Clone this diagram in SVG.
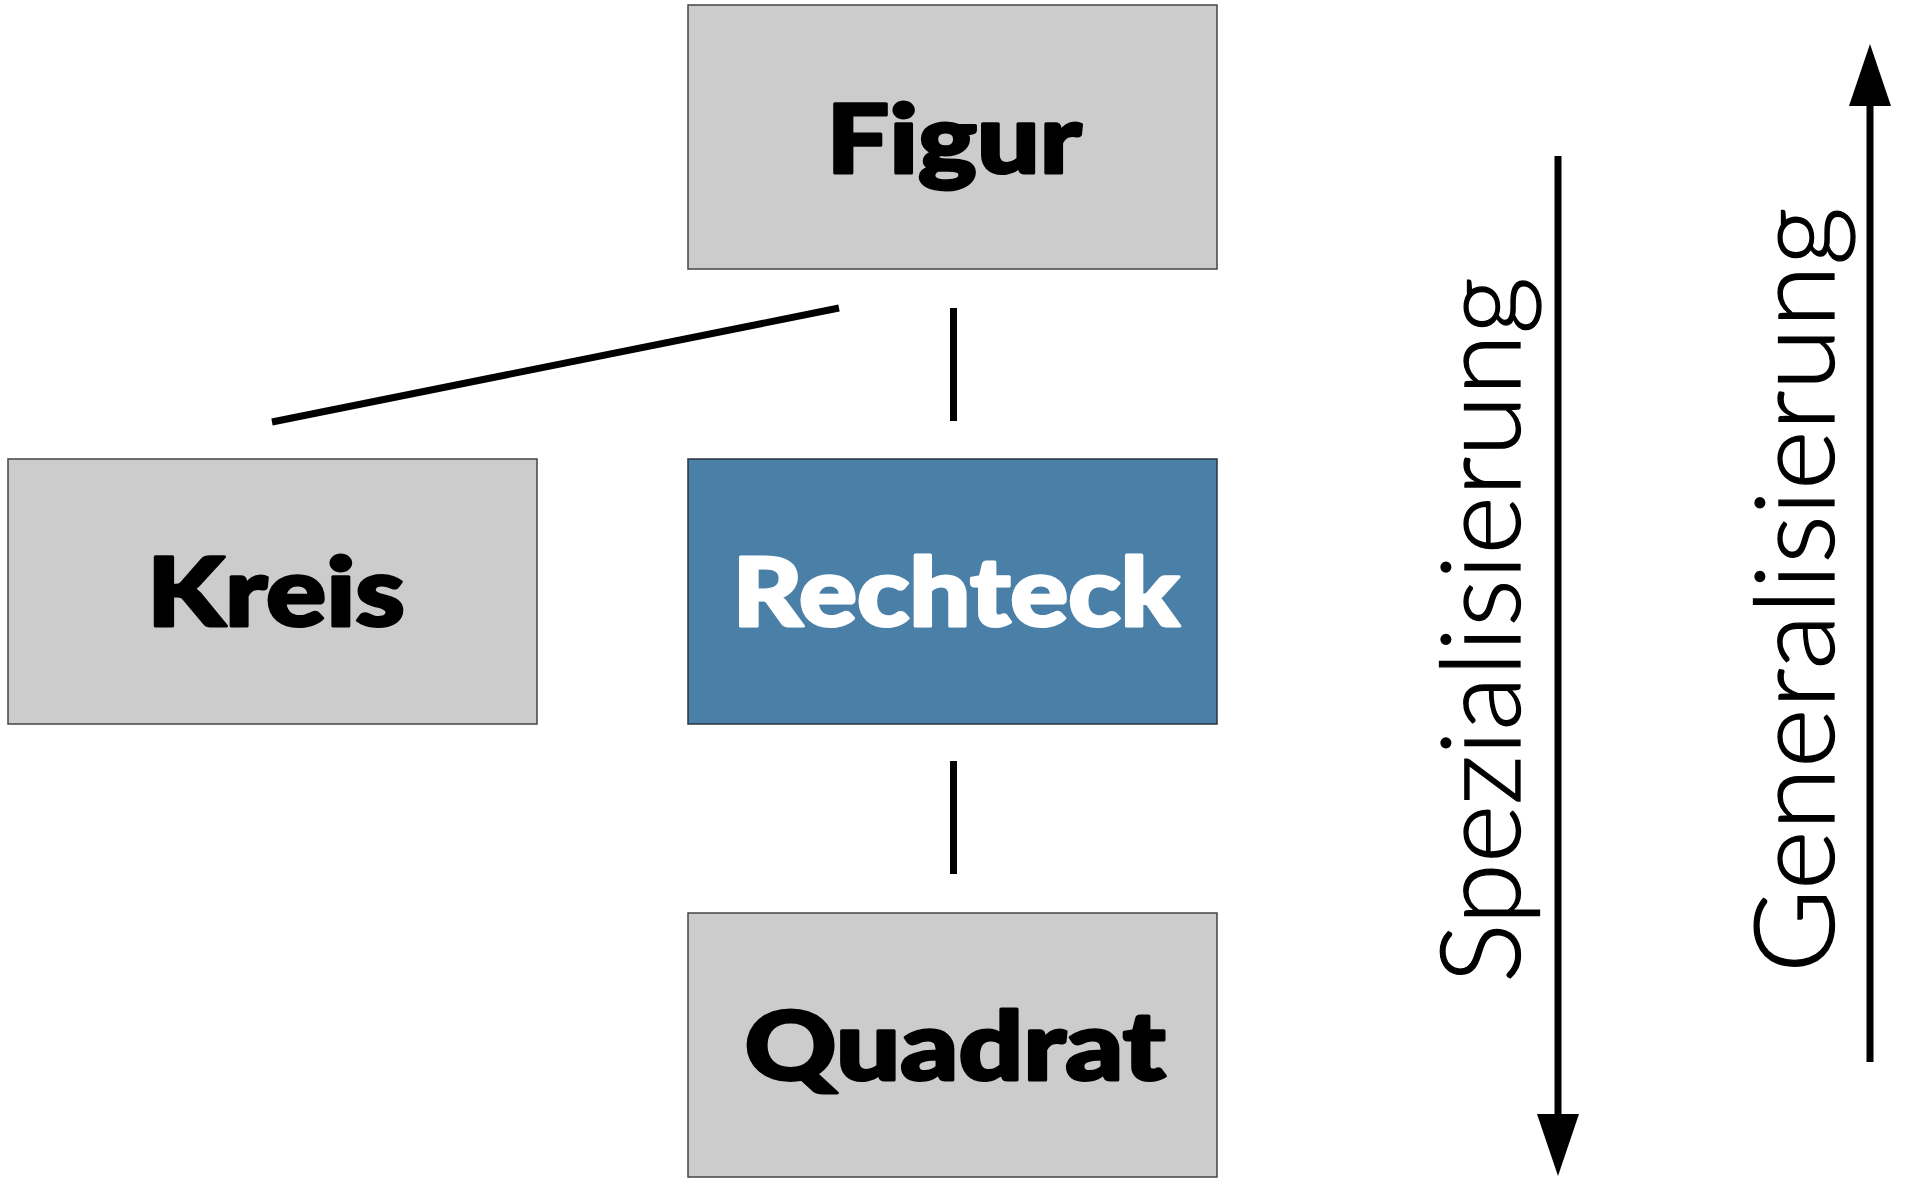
<svg xmlns="http://www.w3.org/2000/svg" width="1907" height="1179" viewBox="0 0 1907 1179">
  <style>
    .box { fill: #cccccc; stroke: #444444; stroke-width: 1.5; }
    .box.active { fill: #4a7fa7; stroke: #2a3540; }
    .label { font-family: "Lato", "Liberation Sans", sans-serif; font-weight: 900; font-size: 96px; fill: #000000; stroke: #000000; stroke-width: 3; stroke-linejoin: round; text-anchor: middle; }
    .label.inv { fill: #ffffff; stroke: #ffffff; }
    .link { stroke: #000000; stroke-width: 7; fill: none; stroke-linecap: butt; }
    .axis { font-family: "Lato", "Liberation Sans", sans-serif; font-weight: 300; font-size: 110px; fill: #000000; stroke: #000000; stroke-width: 1.3; }
  </style>
  <defs>
    <marker id="head" markerUnits="userSpaceOnUse" viewBox="0 0 62 42" markerWidth="62" markerHeight="42" refX="0" refY="21" orient="auto">
      <path d="M0,0 L62,21 L0,42 z" fill="#000000"/>
    </marker>
  </defs>

  <!-- hierarchy connectors -->
  <g id="connectors">
    <line class="link" x1="272" y1="422" x2="839" y2="308"/>
    <line class="link" x1="953.5" y1="308" x2="953.5" y2="421"/>
    <line class="link" x1="953.5" y1="761" x2="953.5" y2="874"/>
  </g>

  <g id="figur">
    <rect class="box" x="688" y="5" width="529" height="264"/>
    <text class="label" x="954" y="173" textLength="255" lengthAdjust="spacingAndGlyphs">Figur</text>
  </g>

  <g id="kreis">
    <rect class="box" x="8" y="459" width="529" height="265"/>
    <text class="label" x="276" y="626" textLength="258" lengthAdjust="spacingAndGlyphs">Kreis</text>
  </g>

  <g id="rechteck">
    <rect class="box active" x="688" y="459" width="529" height="265"/>
    <text class="label inv" x="956" y="626" textLength="447" lengthAdjust="spacingAndGlyphs">Rechteck</text>
  </g>

  <g id="quadrat">
    <rect class="box" x="688" y="913" width="529" height="264"/>
    <text class="label" x="955" y="1080" textLength="421" lengthAdjust="spacingAndGlyphs">Quadrat</text>
  </g>

  <!-- direction axes -->
  <g id="spezialisierung">
    <line class="link" x1="1558" y1="156" x2="1558" y2="1114" marker-end="url(#head)"/>
    <text class="axis" transform="translate(1520,983) rotate(-90)" textLength="706" lengthAdjust="spacingAndGlyphs">Spezialisierung</text>
  </g>

  <g id="generalisierung">
    <line class="link" x1="1870" y1="1062" x2="1870" y2="106" marker-end="url(#head)"/>
    <text class="axis" transform="translate(1834,973) rotate(-90)" textLength="766" lengthAdjust="spacingAndGlyphs">Generalisierung</text>
  </g>
</svg>
